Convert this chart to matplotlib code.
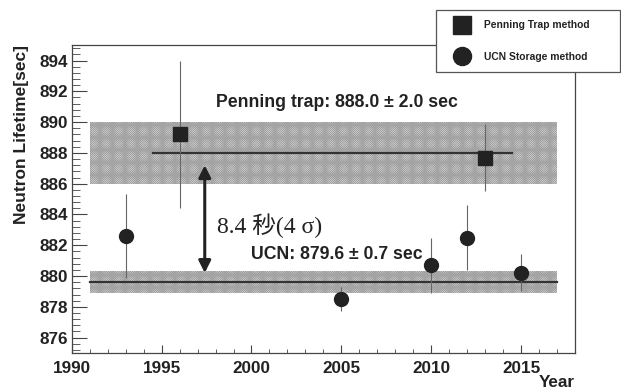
import matplotlib.pyplot as plt
import numpy as np

# neutron lifetime measurements
pt_years = [1996, 2013]
pt_vals = [889.2, 887.7]
pt_errs = [4.8, 2.2]

ucn_years = [1993, 2005, 2010, 2012, 2015]
ucn_vals = [882.6, 878.5, 880.7, 882.5, 880.2]
ucn_errs = [2.7, 0.8, 1.8, 2.1, 1.2]

pt_mean, pt_sig = 888.0, 2.0
ucn_mean, ucn_sig = 879.6, 0.7
band_x = [1991, 2017]
pt_line_x = [1994.5, 2014.5]

plt.rcParams['font.family'] = 'Liberation Sans'
plt.rcParams['font.weight'] = 'bold'
plt.rcParams['axes.labelweight'] = 'bold'
plt.rcParams['hatch.linewidth'] = 0.45
dark = '#222222'

fig = plt.figure(figsize=(6.21, 3.89), dpi=100)
ax = fig.add_axes([0.1155, 0.0925, 0.8105, 0.7915])

ax.fill_between(band_x, pt_mean - pt_sig, pt_mean + pt_sig, facecolor='white',
                edgecolor='#a0a0a0', hatch='x' * 18, linewidth=0, zorder=1)
ax.fill_between(band_x, ucn_mean - ucn_sig, ucn_mean + ucn_sig, facecolor='white',
                edgecolor='#a0a0a0', hatch='x' * 18, linewidth=0, zorder=1)
ax.plot(pt_line_x, [pt_mean, pt_mean], color='#333333', lw=1.6, zorder=2)
ax.plot(band_x, [ucn_mean, ucn_mean], color='#333333', lw=1.6, zorder=2)

e1 = ax.errorbar(pt_years, pt_vals, yerr=pt_errs, fmt='s', ms=9.5, color=dark,
                 ecolor='#666666', elinewidth=0.8, capsize=0, zorder=4)
e2 = ax.errorbar(ucn_years, ucn_vals, yerr=ucn_errs, fmt='o', ms=10, color=dark,
                 ecolor='#666666', elinewidth=0.8, capsize=0, zorder=4)

ax.annotate('', xy=(1997.4, 880.2), xytext=(1997.4, 887.2),
            arrowprops=dict(arrowstyle='<|-|>', lw=2.2, color=dark,
                            mutation_scale=18, shrinkA=0, shrinkB=0), zorder=5)

ax.text(2004.75, 891.3, 'Penning trap: 888.0 ± 2.0 sec', ha='center', va='center',
        fontsize=12.7, color=dark)
ax.text(2004.75, 881.4, 'UCN: 879.6 ± 0.7 sec', ha='center', va='center',
        fontsize=12.7, color=dark)
ax.text(1998.1, 883.3, '8.4 秒(4 σ)', ha='left', va='center', fontsize=17,
        color=dark, fontweight='normal',
        family=['Liberation Serif', 'Noto Sans CJK JP'])

ax.set_xlim(1990, 2018)
ax.set_ylim(875, 895)
ax.set_xticks(np.arange(1990, 2016, 5))
ax.set_xticks(np.arange(1990, 2018, 1), minor=True)
ax.set_yticks(np.arange(876, 895, 2))
ax.set_yticks(np.arange(875.2, 895, 0.4), minor=True)
ax.tick_params(axis='both', which='both', direction='in', colors='#444444',
               labelcolor=dark, labelsize=12.3)
ax.tick_params(axis='x', which='major', length=6, pad=6)
ax.tick_params(axis='x', which='minor', length=3)
ax.tick_params(axis='y', which='major', length=11, pad=3)
ax.tick_params(axis='y', which='minor', length=6)
for lab in ax.get_xticklabels() + ax.get_yticklabels():
    lab.set_fontweight('bold')
for s in ax.spines.values():
    s.set_color('#444444')
    s.set_linewidth(0.9)

ax.set_ylabel('Neutron Lifetime[sec]', loc='top', fontsize=12.5, color=dark)
ax.yaxis.set_label_coords(-0.1007, 1.0)
ax.yaxis.label.set_va('center')
ax.set_xlabel('Year', loc='right', fontsize=12.3, color=dark)
ax.xaxis.set_label_coords(1.0, -0.097)
ax.xaxis.label.set_va('center')

leg = fig.legend([e1, e2], ['Penning Trap method', 'UCN Storage method'],
                 loc='upper left', bbox_to_anchor=(436 / 621, 1 - 76 / 389, 184 / 621, 66 / 389),
                 mode='expand', fontsize=7.4, borderpad=1.0, labelspacing=2.1,
                 handlelength=3.1, handletextpad=0.6, fancybox=False, markerscale=1.3,
                 edgecolor='#555555', framealpha=1, borderaxespad=0)
leg.get_frame().set_linewidth(0.9)
for t in leg.get_texts():
    t.set_color(dark)

fig.savefig('out.png', dpi=100)
